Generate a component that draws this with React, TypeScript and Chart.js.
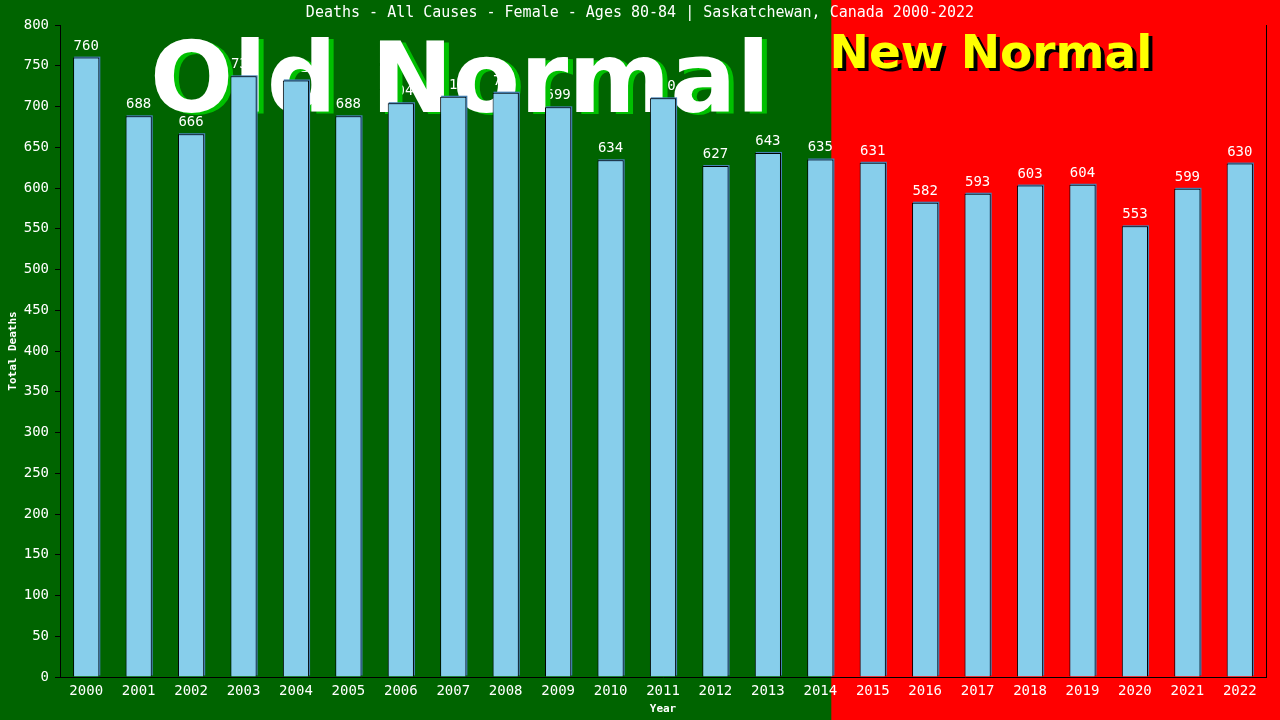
import React, { useEffect, useRef } from "react";
import { Chart, registerables } from "chart.js";

Chart.register(...registerables);

const years = [
  "2000", "2001", "2002", "2003", "2004", "2005", "2006", "2007", "2008", "2009", "2010", "2011",
  "2012", "2013", "2014", "2015", "2016", "2017", "2018", "2019", "2020", "2021", "2022",
];
const deaths = [
  760, 688, 666, 737, 732, 688, 704, 712, 717, 699, 634, 710, 627, 643, 635, 631, 582, 593, 603, 604, 553, 599, 630,
];
const yMax = 800;
const yStep = 50;
const chartTitle = "Deaths - All Causes - Female - Ages 80-84 | Saskatchewan, Canada 2000-2022";
const xTitle = "Year";
const yTitle = "Total Deaths";
const oldLabel = "Old Normal";
const newLabel = "New Normal";
const lastOldIndex = 14;

const MONO = "'DejaVu Sans Mono', monospace";
const SANS = "'DejaVu Sans', Verdana, sans-serif";
const GREEN = "#006400";
const RED = "#ff0000";

const decorPlugin = {
  id: "decor",
  beforeDraw(chart: any) {
    const { ctx, width, height } = chart;
    const x = chart.scales.x;
    const p0 = x.getPixelForValue(lastOldIndex);
    const p1 = x.getPixelForValue(lastOldIndex + 1);
    const split = p0 + (p1 - p0) * 0.21;
    ctx.save();
    ctx.fillStyle = GREEN;
    ctx.fillRect(0, 0, width, height);
    ctx.fillStyle = RED;
    ctx.fillRect(split, 0, width - split, height);
    ctx.fillStyle = "#fff";
    ctx.font = `15px ${MONO}`;
    ctx.textAlign = "center";
    ctx.textBaseline = "middle";
    ctx.fillText(chartTitle, width / 2, 13);
    ctx.restore();
  },
  beforeDatasetsDraw(chart: any) {
    const { ctx } = chart;
    const meta = chart.getDatasetMeta(0);
    ctx.save();
    // value labels
    ctx.fillStyle = "#fff";
    ctx.font = `14px ${MONO}`;
    ctx.textAlign = "center";
    ctx.textBaseline = "alphabetic";
    meta.data.forEach((el: any, i: number) => {
      ctx.fillText(String(deaths[i]), el.x, el.y - 8);
    });
    // Old Normal
    ctx.textAlign = "center";
    let size = 100;
    ctx.font = `bold ${size}px ${SANS}`;
    size = size * (620 / ctx.measureText(oldLabel).width);
    ctx.font = `bold ${size}px ${SANS}`;
    ctx.fillStyle = "#00c000";
    ctx.fillText(oldLabel, 460 + 5, 112 + 2);
    ctx.fillStyle = "#ffffff";
    ctx.fillText(oldLabel, 460, 112);
    // New Normal
    let s2 = 50;
    ctx.font = `bold ${s2}px ${SANS}`;
    s2 = s2 * (323 / ctx.measureText(newLabel).width);
    ctx.font = `bold ${s2}px ${SANS}`;
    ctx.fillStyle = "#000";
    ctx.fillText(newLabel, 991 + 4, 68 + 3);
    ctx.fillStyle = "#ffff00";
    ctx.fillText(newLabel, 991, 68);
    // bar shadows
    ctx.fillStyle = "#4682b4";
    meta.data.forEach((el: any) => {
      const w = el.width;
      ctx.fillRect(el.x - w / 2 + 1, el.y - 1, w, el.base - el.y);
    });
    ctx.restore();
  },
  afterDraw(chart: any) {
    const { ctx, chartArea } = chart;
    ctx.save();
    ctx.strokeStyle = "#000";
    ctx.lineWidth = 1;
    ctx.beginPath();
    ctx.moveTo(Math.round(chartArea.right) + 0.5, chartArea.top);
    ctx.lineTo(Math.round(chartArea.right) + 0.5, chartArea.bottom);
    ctx.stroke();
    ctx.fillStyle = "#fff";
    ctx.font = `bold 11px ${MONO}`;
    ctx.textAlign = "center";
    ctx.textBaseline = "middle";
    ctx.fillText(xTitle, (chartArea.left + chartArea.right) / 2, 709);
    ctx.translate(13, (chartArea.top + chartArea.bottom) / 2);
    ctx.rotate(-Math.PI / 2);
    ctx.fillText(yTitle, 0, 0);
    ctx.restore();
  },
};

export default function App() {
  const ref = useRef<HTMLCanvasElement | null>(null);
  useEffect(() => {
    document.body.style.margin = "0";
    const canvas = ref.current!;
    const chart = new Chart(canvas, {
      type: "bar",
      data: {
        labels: years,
        datasets: [
          {
            data: deaths,
            backgroundColor: "#87ceeb",
            borderColor: "#000",
            borderWidth: 1,
            barPercentage: 0.5,
            categoryPercentage: 1,
          },
        ],
      },
      options: {
        responsive: false,
        animation: false,
        devicePixelRatio: 1,
        layout: { padding: { left: 0, right: 14, top: 25, bottom: 0 } },
        plugins: { legend: { display: false }, tooltip: { enabled: false }, title: { display: false } },
        scales: {
          x: {
            grid: { display: false, drawTicks: false },
            border: { display: true, color: "#000", width: 1 },
            ticks: {
              color: "#fff",
              font: { family: MONO, size: 14 },
              padding: 6,
              maxRotation: 0,
              autoSkip: false,
            },
            afterFit(s: any) {
              s.height = 43;
            },
          },
          y: {
            min: 0,
            max: yMax,
            ticks: { stepSize: yStep, color: "#fff", font: { family: MONO, size: 14 }, padding: 6 },
            grid: { drawOnChartArea: false, drawTicks: true, tickLength: 5, color: "#000" },
            border: { display: true, color: "#000", width: 1 },
            afterFit(s: any) {
              s.width = 60;
            },
          },
        },
      },
      plugins: [decorPlugin],
    });
    return () => chart.destroy();
  }, []);
  return (
    <div style={{ position: "absolute", left: 0, top: 0, width: 1280, height: 720 }}>
      <canvas ref={ref} width={1280} height={720} />
    </div>
  );
}
